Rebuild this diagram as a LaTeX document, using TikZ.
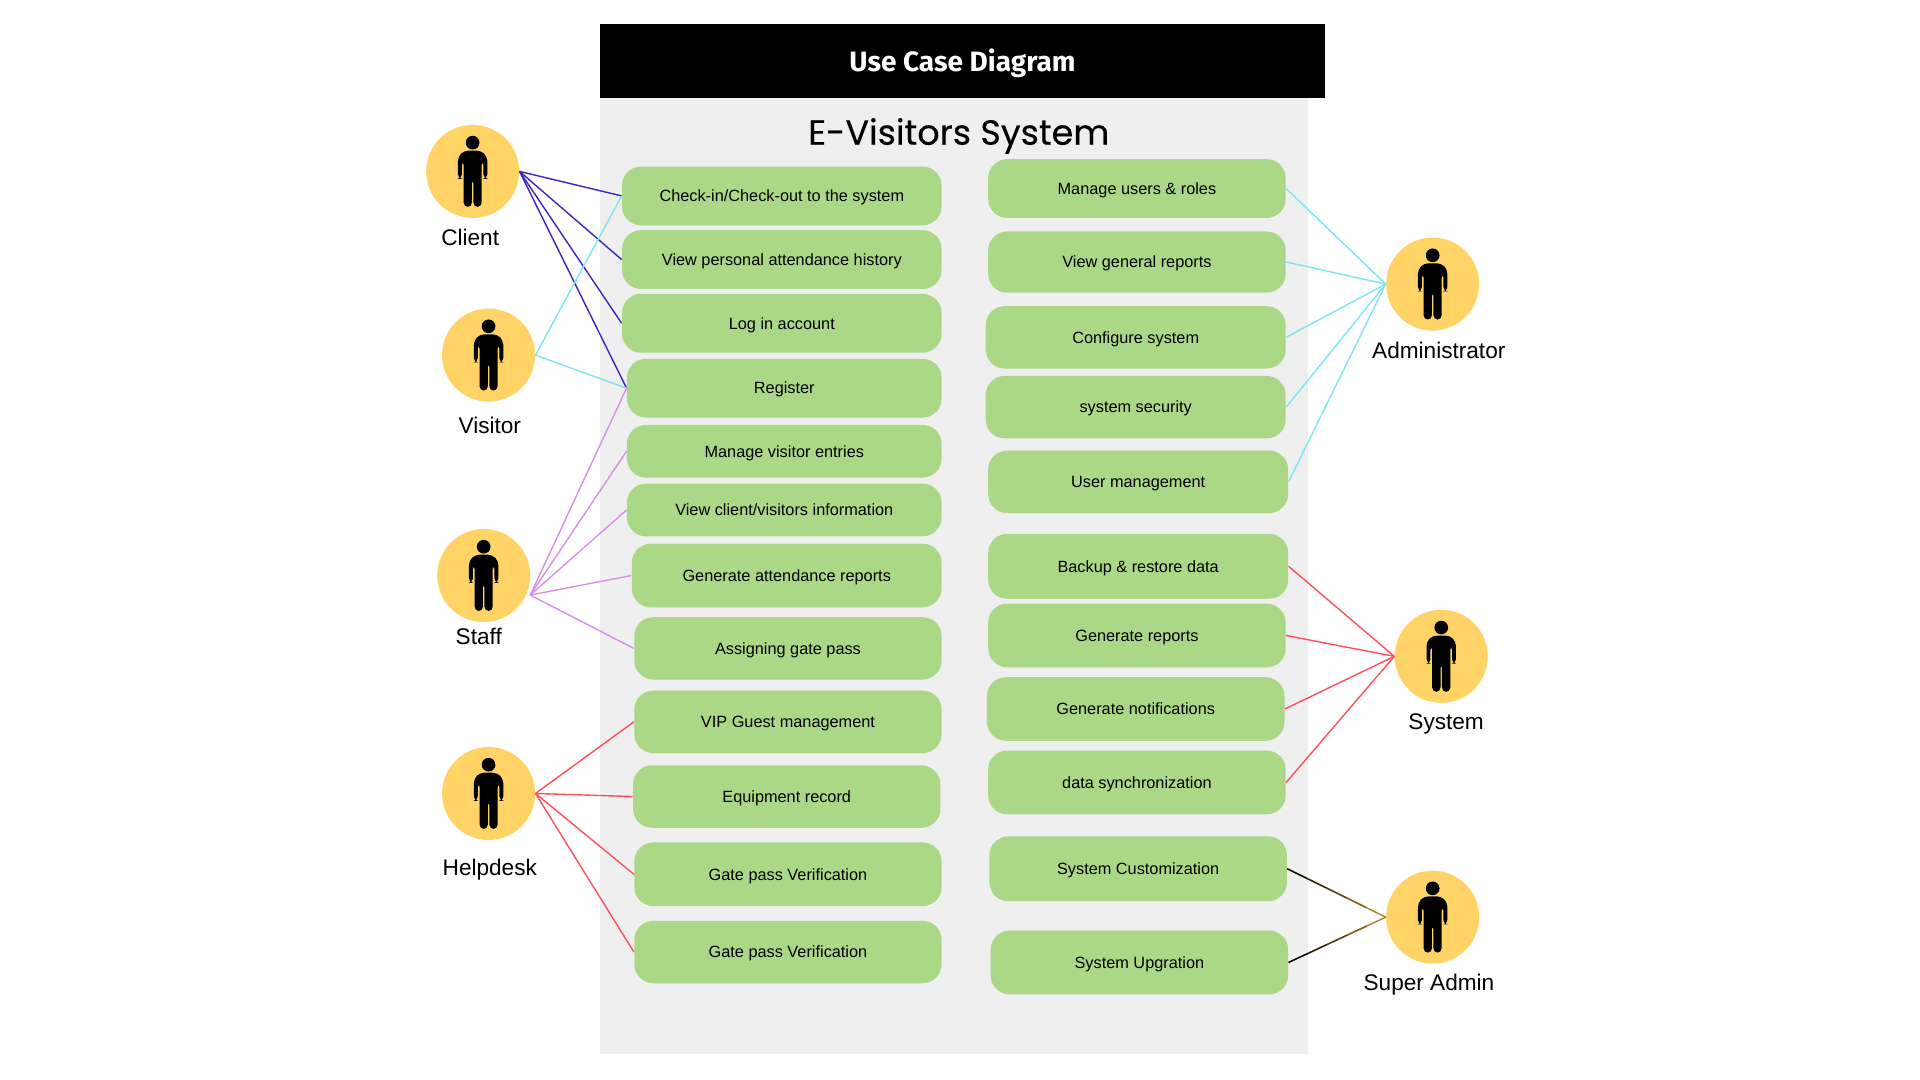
\documentclass[tikz,border=0pt]{standalone}
\usepackage{fontspec}
\usepackage{tikz}
\usetikzlibrary{calc}
\setmainfont{Liberation Sans}
\newfontfamily\headfont{Fira Sans}
\newfontfamily\systemfont[FakeBold=0.3]{Poppins}
\definecolor{panelgray}{HTML}{EFEFEF}
\definecolor{boxgreen}{HTML}{ABD886}
\definecolor{actoryellow}{HTML}{FFD366}
\definecolor{clientblue}{HTML}{3A26BC}
\definecolor{visitorcyan}{HTML}{7CE6EE}
\definecolor{staffpurple}{HTML}{D68EEC}
\definecolor{alertred}{HTML}{FF4F5B}
\definecolor{admingold}{HTML}{A8822A}
\tikzset{
  usecase/.style={rectangle, rounded corners=9.5pt, fill=boxgreen, inner sep=0pt, text height=6.8pt, text depth=1pt, font=\fontsize{8.15}{9}\selectfont},
  actor/.style={circle, fill=actoryellow, inner sep=0pt, minimum size=46.5pt},
  actorname/.style={inner sep=0pt, text height=8.5pt, text depth=2.2pt, font=\fontsize{11.3}{13}\selectfont},
  link/.style={line width=0.7pt},
  person/.pic={
    \fill (0,-23.5) circle (5.6);
    \fill[rounded corners=2.2] (-12,6) -- (-12,-12) -- (-7,-17) -- (7,-17) -- (12,-12) -- (12,6)
      -- (8.8,6) -- (8.8,-9) -- (7.4,-9) -- (7.4,29) -- (0.6,29) -- (0.6,6) -- (-0.6,6) -- (-0.6,29)
      -- (-7.4,29) -- (-7.4,-9) -- (-8.8,-9) -- (-8.8,6) -- cycle;
  }
}
\begin{document}
\begin{tikzpicture}[x=0.6122pt,y=-0.6122pt]
  \useasboundingbox (0,0) rectangle (1568,882);
  \fill[panelgray] (490,80) rectangle (1068,861);
  \fill[black] (490,20) rectangle (1082,80);
  \node[text=white, font=\headfont\bfseries\fontsize{14}{16}\selectfont] (banner) at (786,52) {Use Case Diagram};
  \node[font=\systemfont\fontsize{17.5}{22}\selectfont] (systemtitle) at (783,111) {E-Visitors System};

  % use cases, left column then right column
  \foreach \boxname/\xa/\xb/\ya/\yb/\boxtext in {
    checkin/508/769/136/184/{Check-in/Check-out to the system},
    history/508/769/188/236/{View personal attendance history},
    login/508/769/240/288/{Log in account},
    register/512/769/293/341/{Register},
    entries/512/769/347/390/{Manage visitor entries},
    information/512/769/395/438/{View client/visitors information},
    attendance/516/769/444/496/{Generate attendance reports},
    gatepass/518/769/504/555/{Assigning gate pass},
    vipguest/518/769/564/615/{VIP Guest management},
    equipment/517/768/625/676/{Equipment record},
    verifya/518/769/688/740/{Gate pass Verification},
    verifyb/518/769/752/803/{Gate pass Verification},
    roles/807/1050/130/178/{Manage users \& roles},
    general/807/1050/189/239/{View general reports},
    configure/805/1050/250/301/{Configure system},
    security/805/1050/307/358/{system security},
    usermgmt/807/1052/368/419/{User management},
    backup/807/1052/436/489/{Backup \& restore data},
    reports/807/1050/493/545/{Generate reports},
    notifications/806/1049/553/605/{Generate notifications},
    synchronization/807/1050/613/665/{data synchronization},
    customization/808/1051/683/736/{System Customization},
    upgration/809/1052/760/812/{System Upgration}}
    \node[usecase, minimum width={(\xb-\xa)*0.6122pt}, minimum height={(\yb-\ya)*0.6122pt}]
      (\boxname) at ({(\xa+\xb)/2},{(\ya+\yb)/2}) {\boxtext};

  % actors
  \foreach \actorid/\ax/\ay in {client/386/140, visitor/399/290, staff/395/470, helpdesk/399/648,
    administrator/1170/232, system/1177/536, superadmin/1170/749} {
    \node[actor] (\actorid) at (\ax,\ay) {};
    \pic at (\ax,\ay) {person};
  }
  \node[actorname] (clientname) at (384,195) {Client};
  \node[actorname] (visitorname) at (400,349) {Visitor};
  \node[actorname] (staffname) at (391,521) {Staff};
  \node[actorname] (helpdeskname) at (400,710) {Helpdesk};
  \node[actorname] (administratorname) at (1175,288) {Administrator};
  \node[actorname] (systemname) at (1181,591) {System};
  \node[actorname] (superadminname) at (1167,804) {Super Admin};
  \coordinate (staffport) at (433,486);

  % connectors
  \foreach \target in {checkin,history,login,register}
    \draw[link, clientblue] (client.east) -- (\target.west);
  \foreach \target in {checkin,register}
    \draw[link, visitorcyan] (visitor.east) -- (\target.west);
  \foreach \target in {register,entries,information,attendance,gatepass}
    \draw[link, staffpurple] (staffport) -- (\target.west);
  \foreach \target in {vipguest,equipment,verifya,verifyb}
    \draw[link, alertred] (helpdesk.east) -- (\target.west);
  \foreach \target in {roles,general,configure,security,usermgmt}
    \draw[link, visitorcyan] (\target.east) -- (administrator.west);
  \foreach \target in {backup,reports,notifications,synchronization}
    \draw[link, alertred] (\target.east) -- (system.west);
  \foreach \target in {customization,upgration} {
    \draw[link, admingold] (\target.east) -- (superadmin.west);
    \foreach \shade/\tfrom/\tto in {100/0/0.2, 75/0.2/0.4, 50/0.4/0.6, 25/0.6/0.8}
      \draw[link, black!\shade!admingold] ($(\target.east)!\tfrom!(superadmin.west)$) -- ($(\target.east)!\tto!(superadmin.west)$);
  }
\end{tikzpicture}
\end{document}
